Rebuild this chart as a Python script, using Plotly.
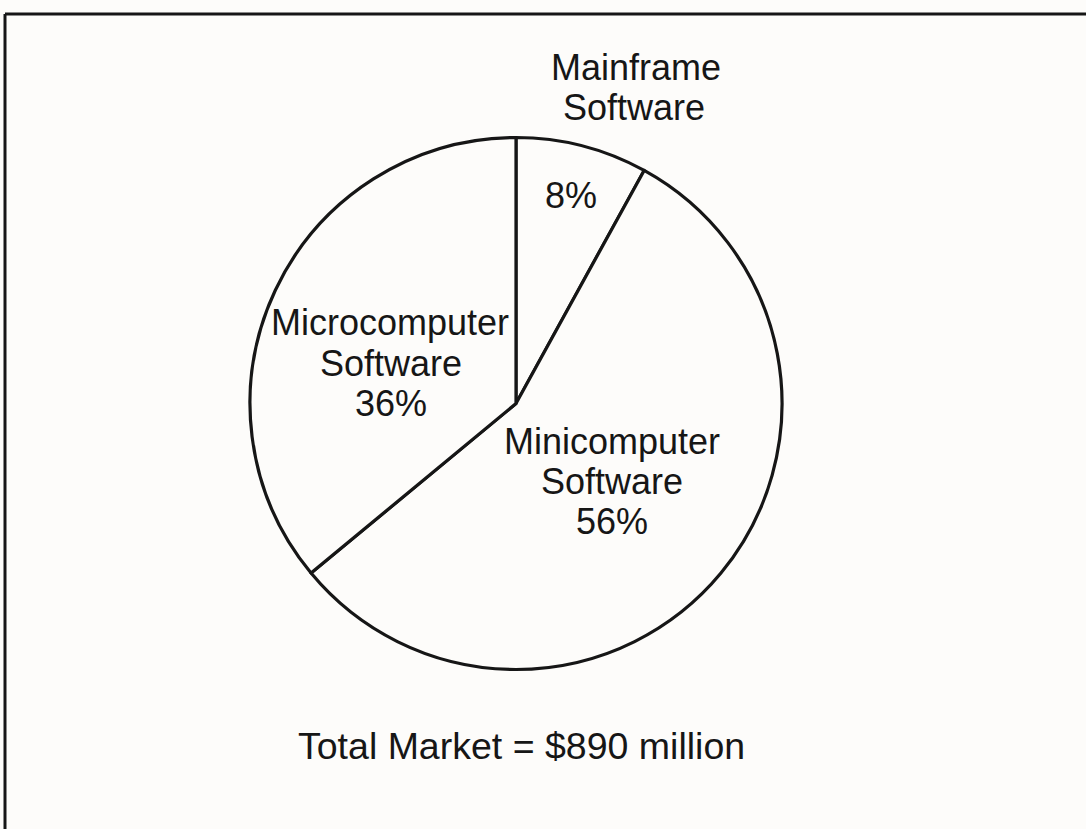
import plotly.graph_objects as go

W, H = 1086, 829

# Data
categories = ["Mainframe Software", "Minicomputer Software", "Microcomputer Software"]
shares = [8, 56, 36]
total_label = "Total Market = $890 million"

BG = "#fdfcfa"
INK = "#161616"
FONT = "Liberation Sans, Arial, Helvetica, sans-serif"
FS = 36

def px(x):
    return x / W

def py(y):
    return 1 - y / H

cx, cy, r = 516, 403.5, 266

fig = go.Figure()
fig.add_trace(go.Pie(
    labels=categories,
    values=shares,
    sort=False,
    direction="clockwise",
    rotation=0,
    textinfo="none",
    hoverinfo="label+percent",
    marker=dict(colors=[BG] * 3, line=dict(color=INK, width=3.2)),
    domain=dict(x=[px(cx - r), px(cx + r)], y=[py(cy + r), py(cy - r)]),
    showlegend=False,
))

labels = [
    ("Mainframe", 636, 68, FS),
    ("Software", 634, 107, FS),
    (f"{shares[0]}%", 571, 195, FS),
    ("Microcomputer", 390, 322, FS),
    ("Software", 391, 363, FS),
    (f"{shares[2]}%", 391, 404, FS),
    ("Minicomputer", 612, 441, FS),
    ("Software", 612, 481, FS),
    (f"{shares[1]}%", 612, 521, FS),
    (total_label, 521, 746, 37.5),
]
annotations = []
for text, x, y, s in labels:
    annotations.append(dict(
        text=text, x=px(x), y=py(y), xref="paper", yref="paper",
        xanchor="center", yanchor="middle", showarrow=False,
        font=dict(family=FONT, size=s, color=INK),
    ))

shapes = [
    dict(type="line", xref="paper", yref="paper", x0=px(5), x1=1.0, y0=py(14), y1=py(14),
         line=dict(color=INK, width=3)),
    dict(type="line", xref="paper", yref="paper", x0=px(5), x1=px(5), y0=py(14), y1=0.0,
         line=dict(color=INK, width=3)),
]

fig.update_layout(
    width=W, height=H,
    margin=dict(l=0, r=0, t=0, b=0),
    paper_bgcolor=BG, plot_bgcolor=BG,
    annotations=annotations,
    shapes=shapes,
)

fig.write_html("out.html")
